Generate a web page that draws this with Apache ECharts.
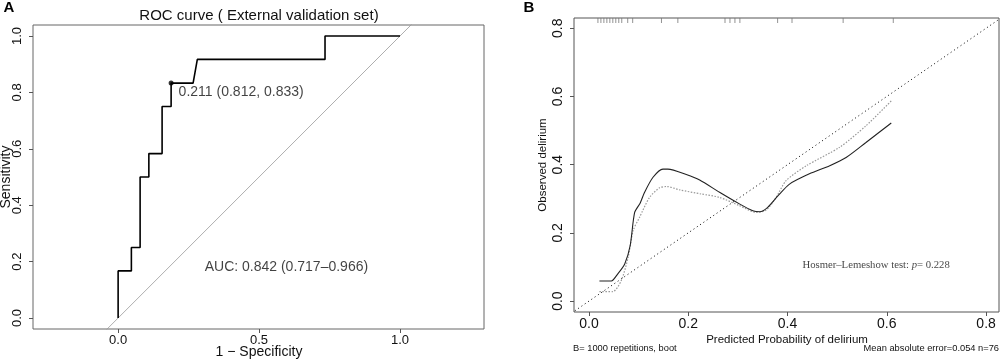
<!DOCTYPE html>
<html>
<head>
<meta charset="utf-8">
<script src="https://cdn.jsdelivr.net/npm/echarts@6/dist/echarts.min.js"></script>
<style>
  html, body { margin: 0; background: #fff; }
  #main { width: 1000px; height: 361px; }
</style>
</head>
<body>
<div id="main"></div>
<script>
// panel A: ROC curve, external validation set
const rocFpr  = [0, 0, 0.047, 0.047, 0.078, 0.078, 0.109, 0.109, 0.156, 0.156, 0.188, 0.188, 0.266, 0.281, 0.734, 0.734, 1.0];
const rocSens = [0, 0.167, 0.167, 0.25, 0.25, 0.5, 0.5, 0.583, 0.583, 0.75, 0.75, 0.833, 0.833, 0.917, 0.917, 1.0, 1.0];
const cutoff = [0.188, 0.833];
const cutoffText = '0.211 (0.812, 0.833)';
const aucText = 'AUC: 0.842 (0.717–0.966)';
const rocTicksX = [0, 0.5, 1];
const rocTicksY = [0, 0.2, 0.4, 0.6, 0.8, 1];
const refLine = [-0.5, 1.5];

// panel B: calibration curve
const biasX = [0.021, 0.045, 0.058, 0.072, 0.083, 0.092, 0.103, 0.112, 0.129, 0.149, 0.159, 0.196, 0.223, 0.263, 0.303, 0.330, 0.344, 0.360, 0.381, 0.404, 0.444, 0.485, 0.518, 0.558, 0.609];
const biasY = [0.059, 0.059, 0.080, 0.109, 0.163, 0.260, 0.287, 0.319, 0.363, 0.387, 0.387, 0.371, 0.355, 0.319, 0.285, 0.265, 0.262, 0.275, 0.309, 0.343, 0.373, 0.397, 0.421, 0.465, 0.522];
const apparentX = [0.021, 0.048, 0.065, 0.079, 0.089, 0.102, 0.122, 0.142, 0.156, 0.183, 0.226, 0.263, 0.303, 0.337, 0.357, 0.377, 0.397, 0.438, 0.505, 0.558, 0.609];
const apparentY = [0.028, 0.028, 0.060, 0.129, 0.207, 0.246, 0.304, 0.332, 0.336, 0.326, 0.314, 0.304, 0.280, 0.260, 0.267, 0.304, 0.353, 0.397, 0.451, 0.514, 0.587];
const rugX = [0.018, 0.024, 0.030, 0.036, 0.042, 0.048, 0.054, 0.060, 0.066, 0.078, 0.088, 0.146, 0.179, 0.274, 0.284, 0.294, 0.304, 0.380, 0.409, 0.512, 0.613];
const calTicks = [0, 0.2, 0.4, 0.6, 0.8];
const hlText = 'Hosmer–Lemeshow test: ';
const hlP = '0.228';

const sans = 'Liberation Sans, Arial, sans-serif';
const zip = (xs, ys) => xs.map((x, i) => [x, ys[i]]);

const chart = echarts.init(document.getElementById('main'), null, { renderer: 'canvas' });

function valueAxis(gridIndex, min, max, ticks, isY, fontSize) {
  return {
    type: 'value', gridIndex: gridIndex, min: min, max: max,
    axisLine: { show: false, onZero: false },
    splitLine: { show: false },
    axisTick: { show: true, inside: false, length: 4, customValues: ticks, lineStyle: { color: '#555' } },
    axisLabel: {
      customValues: ticks, formatter: v => v.toFixed(1),
      fontSize: fontSize, fontFamily: sans, color: '#111',
      margin: isY ? 9 : 5, rotate: isY ? 90 : 0
    }
  };
}

function text(x, y, str, size, opts) {
  return Object.assign({
    type: 'text', x: x, y: y, silent: true,
    style: { text: str, font: size + 'px ' + sans, fill: '#111', align: 'center', verticalAlign: 'middle' }
  }, opts || {});
}

const option = {
  animation: false,
  grid: [
    { left: 33, top: 25, width: 451, height: 304, show: true, borderColor: '#666', borderWidth: 1, outerBoundsMode: 'none' },
    { left: 574, top: 18, width: 425, height: 294, show: true, borderColor: '#555', borderWidth: 1, outerBoundsMode: 'none' }
  ],
  xAxis: [
    valueAxis(0, -0.302, 1.298, rocTicksX, false, 13),
    valueAxis(1, -0.0302, 0.826, calTicks, false, 14)
  ],
  yAxis: [
    valueAxis(0, -0.039, 1.039, rocTicksY, true, 13),
    valueAxis(1, -0.032, 0.830, calTicks, true, 14)
  ],
  graphic: [
    text(9, 8, 'A', 15, { style: { text: 'A', font: 'bold 15px ' + sans, fill: '#000', align: 'center', verticalAlign: 'middle' } }),
    text(529, 8, 'B', 15, { style: { text: 'B', font: 'bold 15px ' + sans, fill: '#000', align: 'center', verticalAlign: 'middle' } }),
    text(259, 16, 'ROC curve ( External validation set)', 15),
    text(259, 352, '1 − Specificity', 14),
    text(6, 177, 'Sensitivity', 14, { rotation: Math.PI / 2 }),
    text(787, 340, 'Predicted Probability of delirium', 11.5),
    text(543, 165, 'Observed delirium', 11.5, { rotation: Math.PI / 2 }),
    text(573, 348, 'B= 1000 repetitions, boot', 9.3, { style: { text: 'B= 1000 repetitions, boot', font: '9.3px ' + sans, fill: '#111', align: 'left', verticalAlign: 'middle' } }),
    text(999, 348, 'Mean absolute error=0.054 n=76', 9.3, { style: { text: 'Mean absolute error=0.054 n=76', font: '9.3px ' + sans, fill: '#111', align: 'right', verticalAlign: 'middle' } })
  ],
  series: [
    {
      type: 'line', xAxisIndex: 0, yAxisIndex: 0, silent: true, symbol: 'none',
      data: refLine.map(v => [v, v]), lineStyle: { color: '#999', width: 0.8 }
    },
    {
      type: 'line', xAxisIndex: 0, yAxisIndex: 0, symbol: 'none',
      data: zip(rocFpr, rocSens), lineStyle: { color: '#000', width: 1.6 }
    },
    {
      type: 'scatter', xAxisIndex: 0, yAxisIndex: 0, symbolSize: 5,
      itemStyle: { color: '#000' }, data: [cutoff],
      label: { show: true, position: 'right', distance: 5, offset: [0, 9], formatter: cutoffText, fontSize: 14, fontFamily: sans, color: '#111' }
    },
    {
      type: 'scatter', xAxisIndex: 0, yAxisIndex: 0, symbolSize: 0, data: [[0.597, 0.182]],
      label: { show: true, position: 'inside', formatter: aucText, fontSize: 14, fontFamily: sans, color: '#111' }
    },
    {
      type: 'line', xAxisIndex: 1, yAxisIndex: 1, silent: true, symbol: 'none',
      data: refLine.map(v => [v, v]), lineStyle: { color: '#000', width: 1, type: [1, 3] }
    },
    {
      type: 'line', xAxisIndex: 1, yAxisIndex: 1, symbol: 'none', smooth: 0.25,
      data: zip(apparentX, apparentY), lineStyle: { color: '#999', width: 1.2, type: [1.5, 1.5] }
    },
    {
      type: 'line', xAxisIndex: 1, yAxisIndex: 1, symbol: 'none', smooth: 0.25,
      data: zip(biasX, biasY), lineStyle: { color: '#222', width: 1.1 }
    },
    {
      type: 'scatter', xAxisIndex: 1, yAxisIndex: 1, clip: false, symbol: 'rect',
      symbolSize: [1, 5], symbolOffset: [0, 2.5], itemStyle: { color: '#777' },
      data: rugX.map(x => [x, 0.830])
    },
    {
      type: 'scatter', xAxisIndex: 1, yAxisIndex: 1, symbolSize: 0, data: [[0.430, 0.105]],
      label: {
        show: true, position: 'right', distance: 0,
        formatter: '{a|' + hlText + '}{i|p}{a|= ' + hlP + '}',
        rich: {
          a: { fontFamily: 'Liberation Serif, Times New Roman, serif', fontSize: 10.7, color: '#111' },
          i: { fontFamily: 'Liberation Serif, Times New Roman, serif', fontSize: 10.7, fontStyle: 'italic', color: '#111' }
        }
      }
    }
  ]
};

chart.setOption(option);
</script>
</body>
</html>
